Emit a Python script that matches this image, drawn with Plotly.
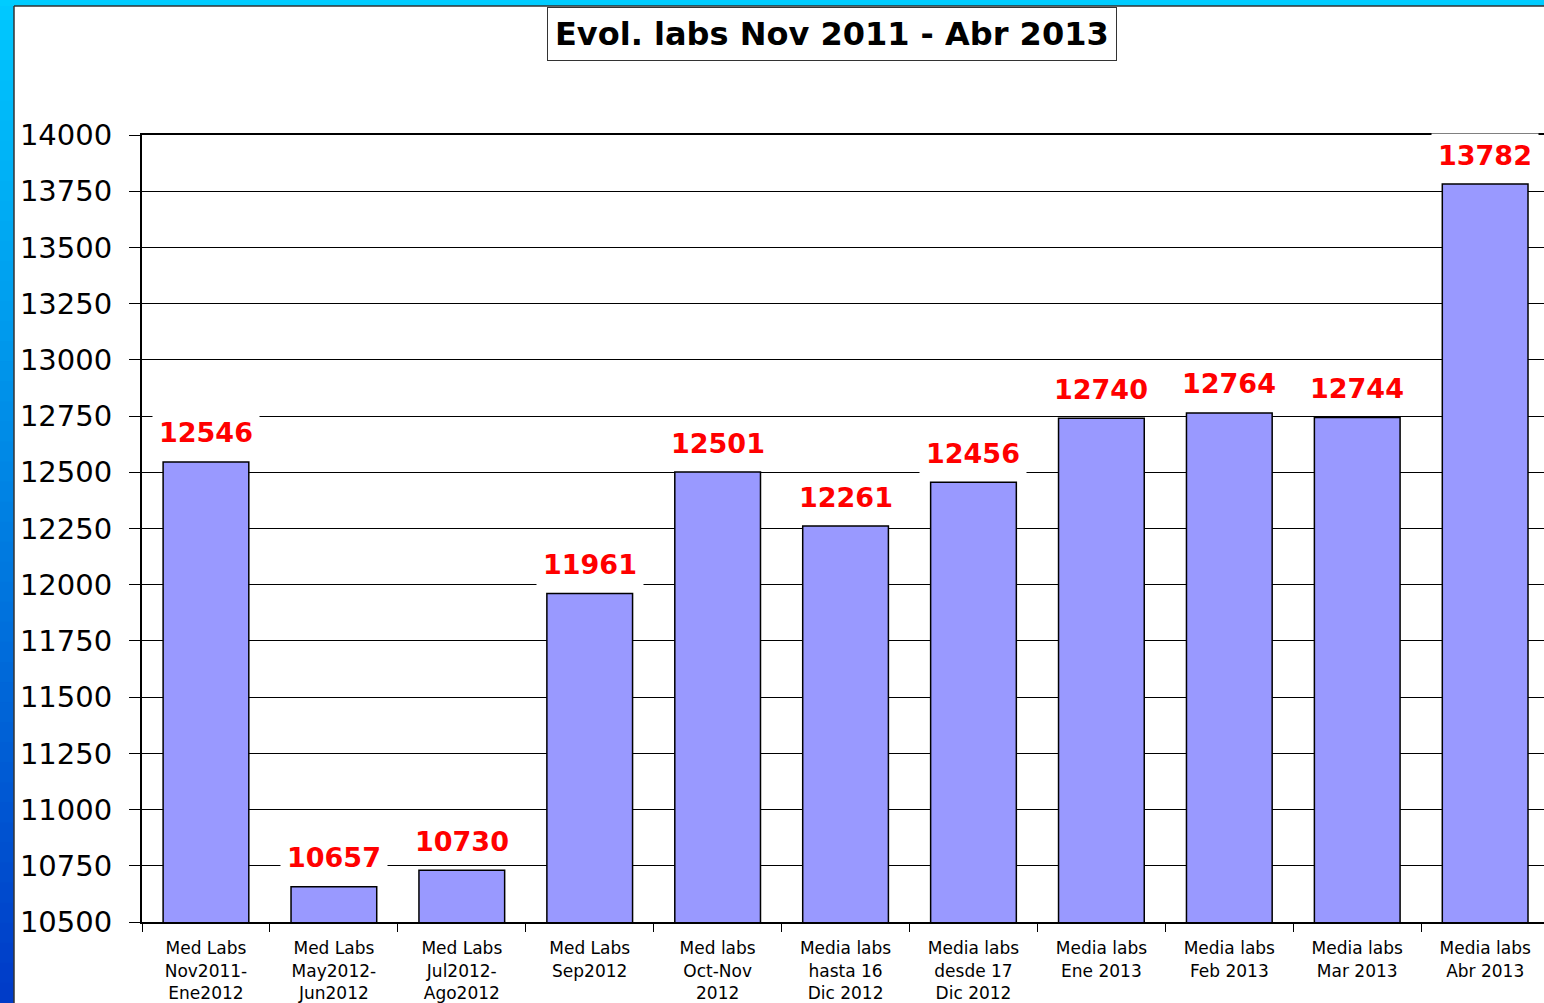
import plotly.graph_objects as go

categories = [
    "Med Labs<br>Nov2011-<br>Ene2012",
    "Med Labs<br>May2012-<br>Jun2012",
    "Med Labs<br>Jul2012-<br>Ago2012",
    "Med Labs<br>Sep2012",
    "Med labs<br>Oct-Nov<br>2012",
    "Media labs<br>hasta 16<br>Dic 2012",
    "Media labs<br>desde 17<br>Dic 2012",
    "Media labs<br>Ene 2013",
    "Media labs<br>Feb 2013",
    "Media labs<br>Mar 2013",
    "Media labs<br>Abr 2013",
]
values = [12546, 10657, 10730, 11961, 12501, 12261, 12456, 12740, 12764, 12744, 13782]
title_text = "Evol. labs Nov 2011 - Abr 2013"

W, H = 1544, 1003
ML, MR, MT, MB = 142, 0, 135, 81
PW = W - ML - MR
PH = H - MT - MB


def px_x(px):
    return (px - ML) / PW


def px_y(py):
    return (H - MB - py) / PH


fig = go.Figure()
fig.add_trace(go.Bar(
    x=categories, y=values,
    marker=dict(color="#9999FF", line=dict(color="black", width=1.5)),
    hoverinfo="skip",
))

for c, v in zip(categories, values):
    fig.add_annotation(
        x=c, y=v, xref="x", yref="y", text=str(v), showarrow=False,
        yanchor="middle", yshift=29,
        font=dict(family="DejaVu Sans", size=27, color="#FF0000", weight="bold"),
        bgcolor="white", borderpad=6,
    )

# title box
fig.add_annotation(
    x=px_x(832), y=px_y(34), xref="paper", yref="paper", text="<b>" + title_text + "</b>",
    showarrow=False, xanchor="center", yanchor="middle",
    font=dict(family="DejaVu Sans", size=32, color="black"),
    bgcolor="white", bordercolor="#333333", borderwidth=1, borderpad=7,
)

shapes = []
# left gradient strip
N = 50
top = (0, 200, 255)
bot = (0, 60, 200)
for i in range(N):
    t = i / (N - 1)
    col = "rgb(%d,%d,%d)" % tuple(int(top[k] + (bot[k] - top[k]) * t) for k in range(3))
    y0 = H * i / N
    y1 = H * (i + 1) / N + 1
    shapes.append(dict(type="rect", xref="paper", yref="paper",
                       x0=px_x(0), x1=px_x(14), y0=px_y(y0), y1=px_y(y1),
                       fillcolor=col, line=dict(width=0), layer="above"))
# top strip
shapes.append(dict(type="rect", xref="paper", yref="paper",
                   x0=px_x(0), x1=px_x(W), y0=px_y(0), y1=px_y(6),
                   fillcolor="#00CCFF", line=dict(width=0), layer="above"))
# slide border lines
shapes.append(dict(type="line", xref="paper", yref="paper",
                   x0=px_x(14), x1=px_x(W), y0=px_y(6), y1=px_y(6),
                   line=dict(color="#333333", width=1.5), layer="above"))
shapes.append(dict(type="line", xref="paper", yref="paper",
                   x0=px_x(14), x1=px_x(14), y0=px_y(6), y1=px_y(H),
                   line=dict(color="#333333", width=1.5), layer="above"))

fig.update_layout(
    width=W, height=H, autosize=False,
    margin=dict(l=ML, r=MR, t=MT, b=MB, pad=0),
    paper_bgcolor="white", plot_bgcolor="white",
    showlegend=False, bargap=0.33,
    shapes=shapes,
    font=dict(family="DejaVu Sans", color="black"),
)
fig.update_xaxes(
    type="category", range=[-0.5, 10.46],
    showline=True, mirror=True, linecolor="black", linewidth=2,
    ticks="outside", tickson="boundaries", ticklen=8, tickcolor="black", tickwidth=1,
    tickfont=dict(family="DejaVu Sans", size=17, color="black"),
    showgrid=False, tickangle=0, ticklabelstandoff=10,
)
fig.update_yaxes(
    range=[10500, 14000], dtick=250, tick0=10500, tickformat="d",
    showline=True, linecolor="black", linewidth=2,
    ticks="outside", ticklen=11, tickcolor="black", tickwidth=1,
    tickfont=dict(family="DejaVu Sans", size=29, color="black"),
    showgrid=True, gridcolor="black", gridwidth=1,
    ticklabelstandoff=11, zeroline=False,
)

fig.write_html("out.html", config={"displayModeBar": False},
               post_script="document.body.style.margin='0';")
